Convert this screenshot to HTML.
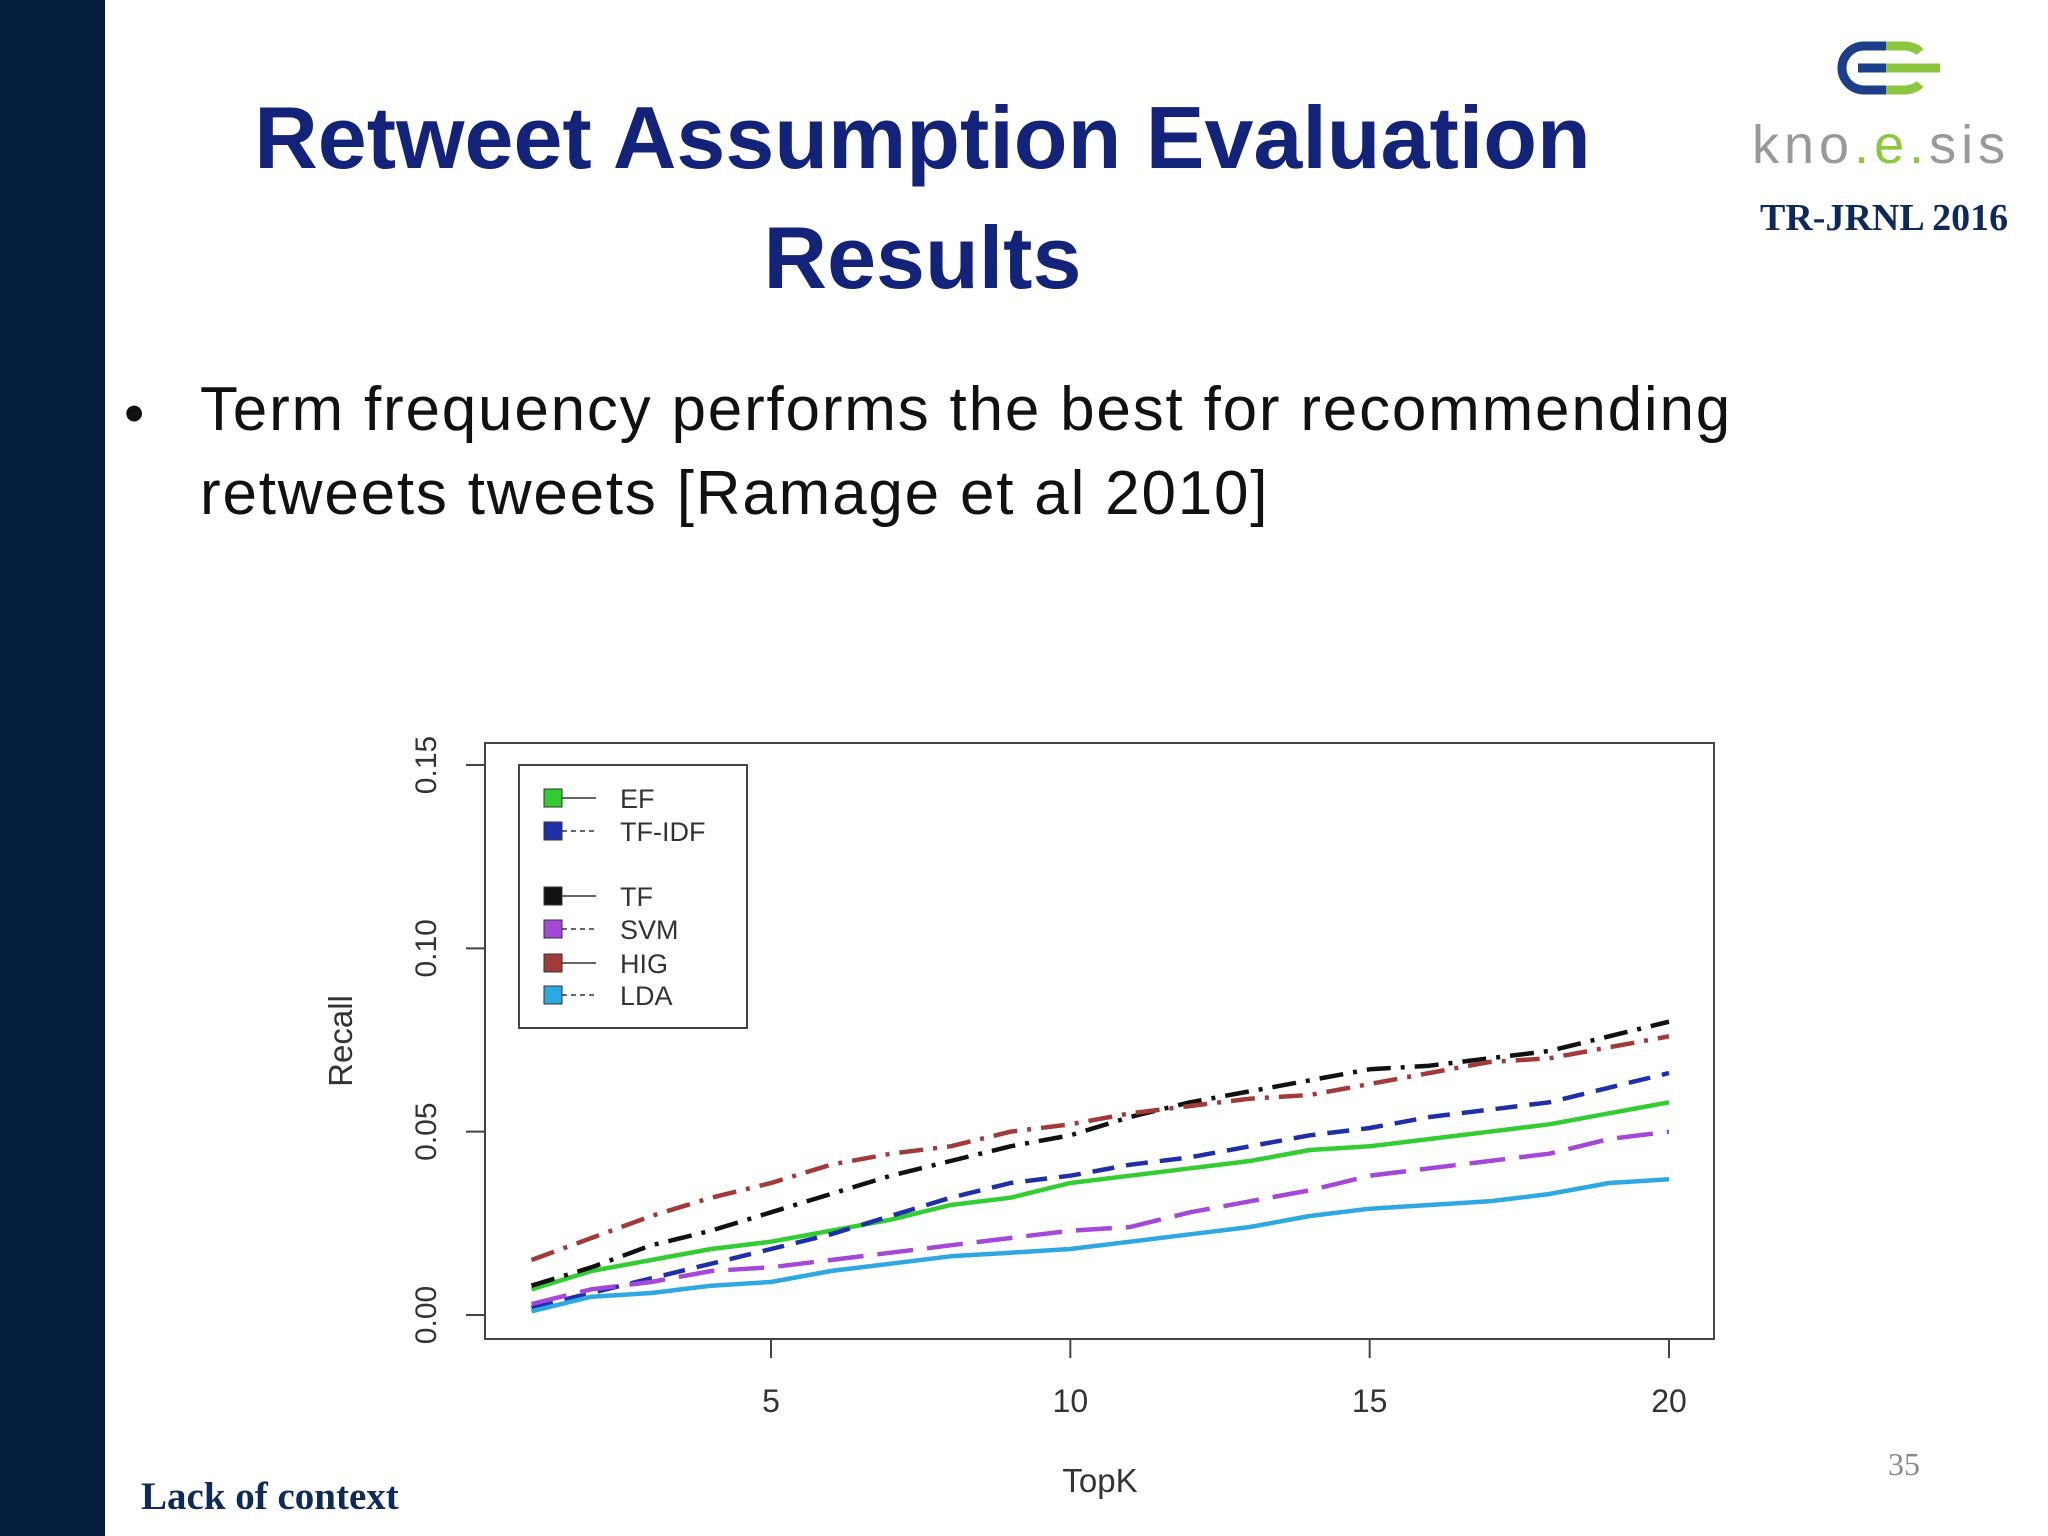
<!DOCTYPE html>
<html><head><meta charset="utf-8"><style>
html,body{margin:0;padding:0;}
body{width:2048px;height:1536px;position:relative;background:#fff;overflow:hidden;font-family:"Liberation Sans",sans-serif;}
.abs{position:absolute;}
</style></head><body>
<div class="abs" style="left:0;top:0;width:105px;height:1536px;background:#041c3e;"></div>
<div class="abs" style="left:180px;top:78px;width:1485px;text-align:center;font-weight:bold;font-size:88px;line-height:120px;color:#13237a;">Retweet Assumption Evaluation<br>Results</div>
<div class="abs" style="left:124px;top:372px;font-size:58px;line-height:84px;color:#111;">•</div>
<div class="abs" style="left:200px;top:368px;font-size:62px;letter-spacing:1.8px;line-height:84px;color:#111;width:1700px;">Term frequency performs the best for recommending<br>retweets tweets [Ramage et al 2010]</div>
<svg class="abs" style="left:1836px;top:40px" width="110" height="56" viewBox="0 0 110 56">
<path d="M50 6 H28 A22 22 0 0 0 28 50 H50" fill="none" stroke="#1d3f8a" stroke-width="9"/>
<path d="M22 28 H50" stroke="#1d3f8a" stroke-width="9"/>
<path d="M50 6 H70 A22 10 0 0 1 84 12 M50 50 H70 A22 10 0 0 0 84 44 M50 28 H104" fill="none" stroke="#8cc63f" stroke-width="9"/>
</svg>
<div class="abs" style="left:1752px;top:114px;font-size:54px;color:#999;letter-spacing:5px;">kno<span style="color:#8cc63f">.e.</span>sis</div>
<div class="abs" style="left:1760px;top:196px;font-family:'Liberation Serif',serif;font-weight:bold;font-size:38px;color:#0e2a5a;">TR-JRNL 2016</div>
<div class="abs" style="left:141px;top:1474px;font-family:'Liberation Serif',serif;font-weight:bold;font-size:39px;color:#0e2a5a;">Lack of context</div>
<div class="abs" style="left:1888px;top:1446px;font-family:'Liberation Serif',serif;font-size:32px;color:#888;">35</div>
<svg class="abs" id="chart" style="left:0;top:0" width="2048" height="1536"></svg>
<script>
const topK=[1,2,3,4,5,6,7,8,9,10,11,12,13,14,15,16,17,18,19,20];
const xTicks=[5,10,15,20];
const yTicks=[0,0.05,0.10,0.15];
const yTickLabels=["0.00","0.05","0.10","0.15"];
const seriesNames=["EF","TF-IDF","TF","SVM","HIG","LDA"];
const efVals=[0.007,0.012,0.015,0.018,0.020,0.023,0.026,0.030,0.032,0.036,0.038,0.040,0.042,0.045,0.046,0.048,0.050,0.052,0.055,0.058];
const tfidfVals=[0.002,0.006,0.010,0.014,0.018,0.022,0.027,0.032,0.036,0.038,0.041,0.043,0.046,0.049,0.051,0.054,0.056,0.058,0.062,0.066];
const tfVals=[0.008,0.013,0.019,0.023,0.028,0.033,0.038,0.042,0.046,0.049,0.054,0.058,0.061,0.064,0.067,0.068,0.070,0.072,0.076,0.080];
const svmVals=[0.003,0.007,0.009,0.012,0.013,0.015,0.017,0.019,0.021,0.023,0.024,0.028,0.031,0.034,0.038,0.040,0.042,0.044,0.048,0.050];
const higVals=[0.015,0.021,0.027,0.032,0.036,0.041,0.044,0.046,0.050,0.052,0.055,0.057,0.059,0.060,0.063,0.066,0.069,0.070,0.073,0.076];
const ldaVals=[0.001,0.005,0.006,0.008,0.009,0.012,0.014,0.016,0.017,0.018,0.020,0.022,0.024,0.027,0.029,0.030,0.031,0.033,0.036,0.037];

const svg=document.getElementById('chart');
const NS='http://www.w3.org/2000/svg';
const X=v=>771+(v-5)*(1669-771)/15;
const Y=v=>1315-v*(1315-765)/0.15;
function mk(tag,attrs,parent){const e=document.createElementNS(NS,tag);for(const k in attrs)e.setAttribute(k,attrs[k]);(parent||svg).appendChild(e);return e;}

const box=mk('rect',{x:485,y:743,width:1229,height:596,fill:'none',stroke:'#444','stroke-width':2});



yTicks.forEach((t,i)=>{
  const l=mk('line',{x1:466,x2:485,y1:Y(t),y2:Y(t),stroke:'#444','stroke-width':2});
  
  
  const tx=mk('text',{x:0,y:0,transform:`translate(436 ${Y(t)}) rotate(-90)`,'text-anchor':'middle','font-size':30,fill:'#333','font-family':'Liberation Sans, sans-serif'});
  tx.textContent=yTickLabels[i];
  
  
});
mk('line',{x1:485,x2:485,y1:Y(0),y2:Y(0.15),stroke:'#444','stroke-width':2});
xTicks.forEach(t=>{
  const l=mk('line',{x1:X(t),x2:X(t),y1:1339,y2:1358,stroke:'#444','stroke-width':2});
  
  
  const tx=mk('text',{x:X(t),y:1412,'text-anchor':'middle','font-size':32,fill:'#333','font-family':'Liberation Sans, sans-serif'});
  tx.textContent=t;
  
  
});
const xt=mk('text',{x:1100,y:1492,'text-anchor':'middle','font-size':33,fill:'#333','font-family':'Liberation Sans, sans-serif'});
xt.textContent='TopK';


const yt=mk('text',{x:0,y:0,transform:'translate(352 1041) rotate(-90)','text-anchor':'middle','font-size':33,fill:'#333','font-family':'Liberation Sans, sans-serif'});
yt.textContent='Recall';



const allVals=[efVals,tfidfVals,tfVals,svmVals,higVals,ldaVals];
const colors=['#33cc33','#1f2fa8','#111111','#a448d8','#a33a3a','#2ea8e0'];
const dashes=['','22 12','24 10 4 10','36 14','24 10 4 10',''];
const slugs=['ef','tf-idf','tf','svm','hig','lda'];
allVals.forEach((vals,i)=>{
  const d=vals.map((v,j)=>(j?'L':'M')+X(topK[j]).toFixed(1)+' '+Y(v).toFixed(1)).join(' ');
  const p=mk('path',{d,fill:'none',stroke:colors[i],'stroke-width':4.5,'stroke-dasharray':dashes[i],'stroke-linejoin':'round'});
  
  
});

const leg=mk('rect',{x:519,y:765,width:228,height:263,fill:'#fff',stroke:'#444','stroke-width':2});


const legY=[798,831,896,929,963,995];
seriesNames.forEach((n,i)=>{
  const g=mk('g',{});
  
  
  mk('rect',{x:544,y:legY[i]-9,width:18,height:18,fill:colors[i],stroke:'#333','stroke-width':1},g);
  mk('line',{x1:562,x2:596,y1:legY[i],y2:legY[i],stroke:'#333','stroke-width':1.5,'stroke-dasharray':i%2?'5 4':''},g);
  const t=mk('text',{x:620,y:legY[i]+10,'font-size':27,fill:'#333','font-family':'Liberation Sans, sans-serif'},g);
  t.textContent=n;
});
</script>
</body></html>
